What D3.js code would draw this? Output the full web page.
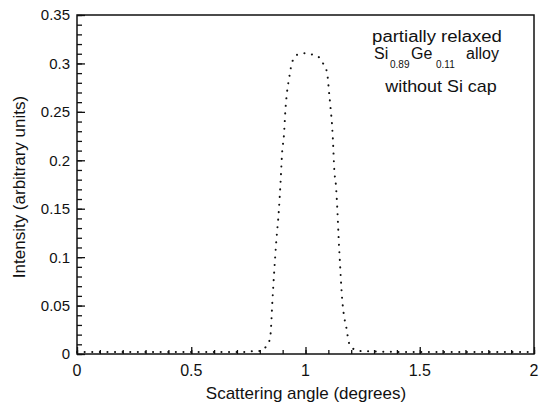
<!DOCTYPE html>
<html lang="en">
<head>
    <meta charset="UTF-8">
    <title>Scattering</title>
    <script src="https://cdnjs.cloudflare.com/ajax/libs/d3/7.8.5/d3.min.js"></script>
    <style>
        body { margin: 0; background: #fff; }
        text { font-family: "Liberation Sans", Arial, sans-serif; fill: #111; }
    </style>
</head>
<body>
    <div id="chart"></div>
    <script>
        // data
        var angle = [0, 0.25, 0.5, 0.74, 0.77, 0.805, 0.828, 0.845, 0.848, 0.855, 0.863, 0.872, 0.883, 0.891, 0.898, 0.905, 0.913, 0.919, 0.929, 0.941, 0.964, 0.998, 1.031, 1.063, 1.081, 1.094, 1.104, 1.110, 1.116, 1.120, 1.126, 1.133, 1.139, 1.145, 1.152, 1.160, 1.167, 1.179, 1.191, 1.212, 1.243, 1.5, 1.75, 2];
        var intensity = [0.002, 0.002, 0.002, 0.002, 0.003, 0.003, 0.008, 0.016, 0.023, 0.054, 0.085, 0.116, 0.147, 0.178, 0.209, 0.224, 0.255, 0.270, 0.286, 0.301, 0.309, 0.3105, 0.309, 0.3056, 0.298, 0.291, 0.268, 0.253, 0.237, 0.221, 0.190, 0.1745, 0.151, 0.120, 0.089, 0.058, 0.042, 0.027, 0.011, 0.005, 0.003, 0.002, 0.002, 0.002];
        var xTicks = [0, 0.5, 1, 1.5, 2];
        var xTickLabels = ["0", "0.5", "1", "1.5", "2"];
        var yTicks = [0, 0.05, 0.1, 0.15, 0.2, 0.25, 0.3, 0.35];
        var yTickLabels = ["0", "0.05", "0.1", "0.15", "0.2", "0.25", "0.3", "0.35"];

        var W = 540, H = 402;
        var m = {left: 77, top: 15, right: 6, bottom: 48};
        var w = W - m.left - m.right, h = H - m.top - m.bottom;

        var svg = d3.select("#chart").append("svg")
                    .attr("width", W)
                    .attr("height", H);
        var g = svg.append("g").attr("transform", "translate(" + m.left + "," + m.top + ")");

        var x = d3.scaleLinear().domain([0, 2]).range([0, w]);
        var y = d3.scaleLinear().domain([0, 0.35]).range([h, 0]);

        // minor + major ticks, pointing inward
        g.append("g")
            .attr("transform", "translate(0," + h + ")")
            .call(d3.axisTop(x).tickValues(d3.range(0, 2.001, 0.1)).tickSize(4).tickFormat(""))
            .call(function(a) { a.select(".domain").remove(); });
        g.append("g")
            .attr("transform", "translate(0," + h + ")")
            .call(d3.axisTop(x).tickValues(xTicks).tickSize(7).tickFormat(""))
            .call(function(a) { a.select(".domain").remove(); });
        g.append("g")
            .call(d3.axisRight(y).tickValues(d3.range(0, 0.3501, 0.01)).tickSize(5).tickFormat(""))
            .call(function(a) { a.select(".domain").remove(); });
        g.append("g")
            .call(d3.axisRight(y).tickValues(yTicks).tickSize(8).tickFormat(""))
            .call(function(a) { a.select(".domain").remove(); });
        g.selectAll(".tick line").attr("stroke", "#111").attr("stroke-width", 1.3);

        // frame
        g.append("rect")
            .attr("width", w).attr("height", h)
            .attr("fill", "none").attr("stroke", "#111").attr("stroke-width", 1.5);

        // tick labels
        g.selectAll(".xl").data(xTicks).enter().append("text")
            .attr("x", function(d) { return x(d); })
            .attr("y", h + 22)
            .attr("text-anchor", "middle")
            .style("font-size", "16px")
            .text(function(d, i) { return xTickLabels[i]; });
        g.selectAll(".yl").data(yTicks).enter().append("text")
            .attr("x", -7)
            .attr("y", function(d) { return y(d); })
            .attr("dy", "0.36em")
            .attr("text-anchor", "end")
            .style("font-size", "15px")
            .text(function(d, i) { return yTickLabels[i]; });

        // axis titles
        svg.append("text")
            .attr("x", 306).attr("y", 399)
            .attr("text-anchor", "middle")
            .style("font-size", "17px")
            .text("Scattering angle (degrees)");
        svg.append("text")
            .attr("transform", "translate(25,187) rotate(-90)")
            .attr("text-anchor", "middle")
            .style("font-size", "17px")
            .text("Intensity (arbitrary units)");

        // data as dotted curve
        var pts = angle.map(function(a, i) { return [a, intensity[i]]; });
        var line = d3.line()
                    .x(function(d) { return x(d[0]); })
                    .y(function(d) { return y(d[1]); })
                    .curve(d3.curveMonotoneX);
        g.append("path")
            .datum(pts)
            .attr("d", line)
            .attr("fill", "none")
            .attr("stroke", "#111")
            .attr("stroke-width", 2)
            .attr("stroke-linecap", "round")
            .attr("stroke-dasharray", "0.1,7.5");

        // annotation
        svg.append("text")
            .attr("transform", "translate(437,42) scale(1.16,1)")
            .attr("text-anchor", "middle")
            .style("font-size", "16px")
            .text("partially relaxed");
        var t2 = svg.append("text").style("font-size", "16px");
        t2.append("tspan").attr("x", 374).attr("y", 59).text("Si");
        t2.append("tspan").attr("x", 390).attr("y", 68).style("font-size", "10px").text("0.89");
        t2.append("tspan").attr("x", 411).attr("y", 59).text("Ge");
        t2.append("tspan").attr("x", 436).attr("y", 68).style("font-size", "10px").text("0.11");
        t2.append("tspan").attr("x", 466).attr("y", 59).text("alloy");
        svg.append("text")
            .attr("transform", "translate(441,92) scale(1.12,1)")
            .attr("text-anchor", "middle")
            .style("font-size", "16px")
            .text("without Si cap");
    </script>
</body>
</html>
